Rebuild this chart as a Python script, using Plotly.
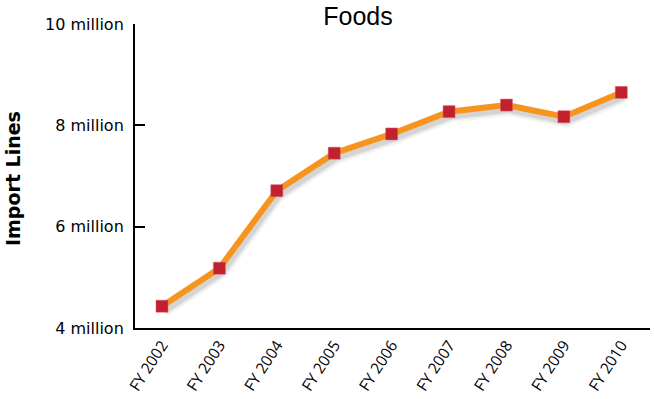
import plotly.graph_objects as go

# Import lines for the Foods category, by fiscal year
years = ["FY 2002", "FY 2003", "FY 2004", "FY 2005", "FY 2006",
         "FY 2007", "FY 2008", "FY 2009", "FY 2010"]
import_lines = [4.43e6, 5.18e6, 6.71e6, 7.45e6, 7.83e6,
                8.27e6, 8.40e6, 8.17e6, 8.65e6]

y_ticks = [4e6, 6e6, 8e6, 10e6]
y_tick_labels = ["4 million", "6 million", "8 million", "10 million"]

W, H = 654, 399
L, R, T, B = 135, 4, 24, 71
plot_w = W - L - R
plot_h = H - T - B

x_lo, x_hi = -0.47, 8.5
y_lo, y_hi = 4e6, 10e6

# Drop shadow: same series drawn on overlay axes nudged a few pixels down/right
dx_px, dy_px = 2, 4
x_shift = dx_px * (x_hi - x_lo) / plot_w
y_shift = dy_px * (y_hi - y_lo) / plot_h

idx = list(range(len(years)))

fig = go.Figure()

# Transparent carrier trace so the visible axes get drawn
fig.add_trace(go.Scatter(
    x=idx, y=import_lines, mode="lines",
    line=dict(color="rgba(0,0,0,0)", width=0),
    hoverinfo="skip", showlegend=False,
))

for width, alpha in [(14, 0.04), (10, 0.06), (7, 0.08)]:
    fig.add_trace(go.Scatter(
        x=idx, y=import_lines,
        xaxis="x2", yaxis="y2",
        mode="lines",
        line=dict(color=f"rgba(0,0,0,{alpha})", width=width),
        hoverinfo="skip", showlegend=False,
    ))

# Main series on its own overlay (same ranges as the visible axes) so it sits above the shadow
fig.add_trace(go.Scatter(
    x=idx, y=import_lines,
    xaxis="x3", yaxis="y3",
    mode="lines+markers",
    line=dict(color="#F7941D", width=6),
    marker=dict(symbol="square", size=12, color="#C1202F",
                line=dict(color="#D9606A", width=0.5)),
    showlegend=False,
))

hidden = dict(visible=False, showgrid=False, zeroline=False)

fig.update_layout(
    width=W, height=H,
    margin=dict(l=L, r=R, t=T, b=B, autoexpand=False),
    paper_bgcolor="white", plot_bgcolor="white",
    title=dict(text="Foods", xref="container", yref="container",
               x=358 / W, y=1 - 16 / H, xanchor="center", yanchor="middle",
               font=dict(family="Liberation Sans", size=25, color="black")),
    xaxis=dict(
        range=[x_lo, x_hi],
        tickmode="array", tickvals=idx, ticktext=years,
        tickangle=-57,
        tickfont=dict(family="Open Sans", size=15.5, color="black"),
        showline=True, linecolor="black", linewidth=2,
        ticks="", showgrid=False, zeroline=False,
        ticklabelstandoff=0,
    ),
    yaxis=dict(
        range=[y_lo, y_hi],
        tickmode="array", tickvals=y_ticks, ticktext=y_tick_labels,
        tickfont=dict(family="DejaVu Sans", size=16, color="black"),
        showline=True, linecolor="black", linewidth=2,
        ticks="inside", ticklen=10, tickwidth=2, tickcolor="black",
        ticklabelstandoff=6,
        showgrid=False, zeroline=False,
    ),
    xaxis2=dict(range=[x_lo - x_shift, x_hi - x_shift], overlaying="x", **hidden),
    yaxis2=dict(range=[y_lo + y_shift, y_hi + y_shift], overlaying="y", **hidden),
    xaxis3=dict(range=[x_lo, x_hi], overlaying="x", **hidden),
    yaxis3=dict(range=[y_lo, y_hi], overlaying="y", **hidden),
    annotations=[dict(
        text="<b>Import Lines</b>", xref="paper", yref="paper",
        x=(13 - L) / plot_w, y=0.5 - (179 - (T + plot_h / 2)) / plot_h,
        xanchor="center", yanchor="middle", textangle=-90, showarrow=False,
        font=dict(family="DejaVu Sans", size=19, color="black"),
    )],
)

fig.write_html("out.html")
